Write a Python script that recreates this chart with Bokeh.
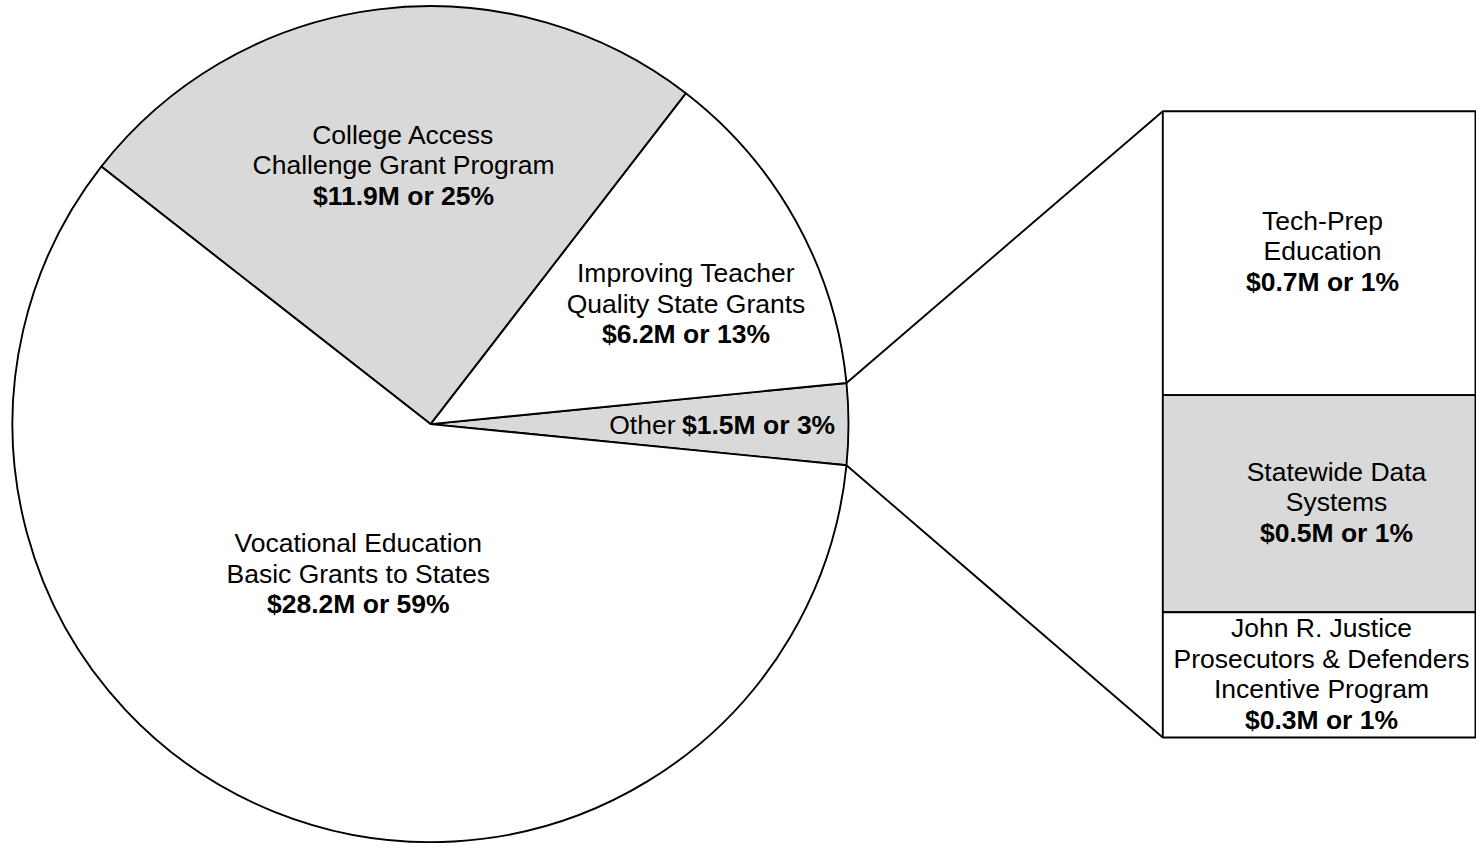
import math
from bokeh.plotting import figure
from bokeh.models import Range1d
from bokeh.core.properties import value
from bokeh.embed import file_html
from bokeh.resources import INLINE

# ---------------- data ----------------
pie_names = ["Other", "Improving Teacher Quality State Grants",
             "College Access Challenge Grant Program",
             "Vocational Education Basic Grants to States"]
pie_values = [1.5, 6.2, 11.9, 28.2]          # $M
pie_label_lines = [None,
                   ["Improving Teacher", "Quality State Grants"],
                   ["College Access", "Challenge Grant Program"],
                   ["Vocational Education", "Basic Grants to States"]]
pie_fills = ["#d9d9d9", "#ffffff", "#d9d9d9", "#ffffff"]

bar_names = ["Tech-Prep Education", "Statewide Data Systems",
             "John R. Justice Prosecutors & Defenders Incentive Program"]
bar_values = [0.68, 0.52, 0.30]              # $M, top to bottom
bar_label_lines = [["Tech-Prep", "Education"],
                   ["Statewide Data", "Systems"],
                   ["John R. Justice", "Prosecutors & Defenders", "Incentive Program"]]
bar_fills = ["#ffffff", "#d9d9d9", "#ffffff"]

# ---------------- layout (style / positions) ----------------
W, H = 1476, 847
CX, CY, R = 430.0, -423.6, 418.0
BAR_L, BAR_R, BAR_T, BAR_B = 1162.3, 1475.0, -110.7, -737.0
FONT = value("Liberation Sans")
FS = "26.5px"
LH = 30.6
TDY = 9.0   # baseline correction
LW = 1.9

total = sum(pie_values)

def money(v):
    return "$%.1fM or %d%%" % (v, round(v / total * 100))

p = figure(width=W, height=H, output_backend="svg", toolbar_location=None,
           x_range=Range1d(0, W), y_range=Range1d(-H, 0),
           x_axis_location=None, y_axis_location=None, min_border=0)
p.outline_line_color = None
p.background_fill_color = "white"
p.border_fill_color = "white"
p.grid.visible = False

# ---- pie ----
start = -pie_values[0] / total * math.pi
starts, ends = [], []
a = start
for v in pie_values:
    starts.append(a)
    a += v / total * 2 * math.pi
    ends.append(a)

p.wedge(x=[CX] * len(pie_values), y=[CY] * len(pie_values), radius=R,
        start_angle=starts, end_angle=ends, direction="anticlock",
        fill_color=pie_fills, line_color="black", line_width=LW)

# ---- bar ----
bar_total = sum(bar_values)
unit = (BAR_T - BAR_B) / bar_total
tops, bottoms = [], []
y = BAR_T
for v in bar_values:
    tops.append(y)
    y -= v * unit
    bottoms.append(y)
p.quad(left=[BAR_L] * 3, right=[BAR_R] * 3, top=tops, bottom=bottoms,
       fill_color=bar_fills, line_color="black", line_width=LW)

# ---- connectors ----
ux = CX + R * math.cos(ends[0]); uy = CY + R * math.sin(ends[0])
lx = CX + R * math.cos(starts[0]); ly = CY + R * math.sin(starts[0])
p.segment(x0=[ux, lx], y0=[uy, ly], x1=[BAR_L, BAR_L], y1=[BAR_T, BAR_B],
          line_color="black", line_width=LW)

# ---- labels ----
def block(x, y0, lines, bold_line):
    ys = [y0 + TDY - i * LH for i in range(len(lines) + 1)]
    p.text(x=[x] * len(lines), y=ys[:len(lines)], text=lines,
           text_font=FONT, text_font_size=FS, text_align="center",
           text_baseline="alphabetic", text_color="black")
    p.text(x=[x], y=[ys[-1]], text=[bold_line], text_font=FONT,
           text_font_size=FS, text_font_style="bold", text_align="center",
           text_baseline="alphabetic", text_color="black")

pie_pos = [None, (685.5, -281.7), (403.0, -143.3), (357.8, -551.7)]
for i in range(1, 4):
    block(pie_pos[i][0], pie_pos[i][1], pie_label_lines[i], money(pie_values[i]))

bar_pos = [(1322.0, -229.3), (1336.0, -480.0), (1321.0, -636.7)]
for i in range(3):
    block(bar_pos[i][0], bar_pos[i][1], bar_label_lines[i], money(bar_values[i]))

# Other label (mixed weight)
p.text(x=[675.0], y=[-433.3 + TDY], text=["Other"], text_font=FONT, text_font_size=FS,
       text_align="right", text_baseline="alphabetic", text_color="black")
p.text(x=[681.5], y=[-433.3 + TDY], text=[money(pie_values[0])], text_font=FONT,
       text_font_size=FS, text_font_style="bold", text_align="left",
       text_baseline="alphabetic", text_color="black")

open("out.html", "w").write(file_html(p, INLINE))
